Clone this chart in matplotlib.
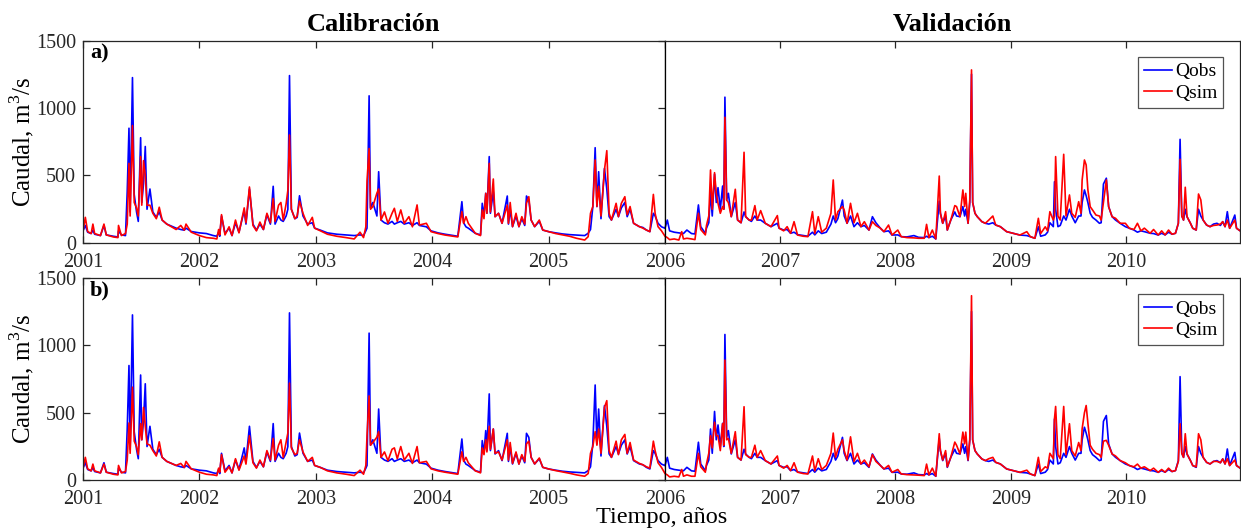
import matplotlib
matplotlib.use("Agg")
import matplotlib.pyplot as plt
import numpy as np

plt.rcParams['font.family'] = ['Liberation Serif', 'DejaVu Serif']
plt.rcParams['mathtext.fontset'] = 'custom'
plt.rcParams['mathtext.rm'] = 'Liberation Serif'

# tiempo (años decimales) y caudales, m3/s
t = [2001.00, 2001.02, 2001.04, 2001.07, 2001.085, 2001.10, 2001.15, 2001.18, 2001.20, 2001.26,
     2001.30, 2001.305, 2001.33, 2001.365, 2001.38, 2001.395, 2001.405, 2001.425, 2001.44, 2001.46,
     2001.475, 2001.495, 2001.505, 2001.52, 2001.535, 2001.55, 2001.575, 2001.60, 2001.63, 2001.655,
     2001.68, 2001.72, 2001.76, 2001.80, 2001.84, 2001.87, 2001.885, 2001.93,
     2002.00, 2002.06, 2002.12, 2002.15, 2002.165, 2002.175, 2002.19, 2002.22, 2002.255, 2002.28,
     2002.31, 2002.34, 2002.385, 2002.40, 2002.43, 2002.46, 2002.49, 2002.52, 2002.55, 2002.58,
     2002.61, 2002.634, 2002.65, 2002.68, 2002.70, 2002.72, 2002.745, 2002.76, 2002.774, 2002.79,
     2002.82, 2002.84, 2002.86, 2002.89, 2002.93, 2002.97, 2002.99,
     2003.04, 2003.10, 2003.18, 2003.26, 2003.33, 2003.38, 2003.41, 2003.43, 2003.44, 2003.458,
     2003.47, 2003.49, 2003.525, 2003.54, 2003.56, 2003.59, 2003.62, 2003.655, 2003.675, 2003.70,
     2003.73, 2003.76, 2003.80, 2003.83, 2003.87, 2003.89, 2003.95, 2003.99,
     2004.05, 2004.11, 2004.18, 2004.22, 2004.255, 2004.27, 2004.29, 2004.31, 2004.37, 2004.415,
     2004.43, 2004.445, 2004.46, 2004.47, 2004.49, 2004.50, 2004.525, 2004.54, 2004.57, 2004.60,
     2004.645, 2004.655, 2004.67, 2004.69, 2004.72, 2004.745, 2004.77, 2004.795, 2004.81, 2004.83,
     2004.85, 2004.88, 2004.92, 2004.95,
     2005.00, 2005.06, 2005.12, 2005.18, 2005.24, 2005.31, 2005.34, 2005.36, 2005.38, 2005.40,
     2005.415, 2005.43, 2005.45, 2005.48, 2005.50, 2005.52, 2005.54, 2005.58, 2005.60, 2005.625,
     2005.655, 2005.675, 2005.70, 2005.73, 2005.78, 2005.81, 2005.84, 2005.87, 2005.90, 2005.915,
     2005.94, 2005.97, 2006.00,
     2006.02, 2006.04, 2006.08, 2006.12, 2006.145, 2006.16, 2006.19, 2006.23, 2006.26, 2006.29,
     2006.31, 2006.35, 2006.36, 2006.38, 2006.395, 2006.41, 2006.43, 2006.445, 2006.46, 2006.48,
     2006.50, 2006.51, 2006.52, 2006.535, 2006.55, 2006.575, 2006.61, 2006.63, 2006.66, 2006.686,
     2006.70, 2006.73, 2006.75, 2006.78, 2006.80, 2006.83, 2006.87, 2006.92, 2006.975, 2006.99,
     2007.03, 2007.06, 2007.09, 2007.12, 2007.15, 2007.20, 2007.24, 2007.28, 2007.30, 2007.33,
     2007.36, 2007.40, 2007.44, 2007.46, 2007.48, 2007.50, 2007.54, 2007.555, 2007.58, 2007.61,
     2007.64, 2007.67, 2007.70, 2007.73, 2007.77, 2007.80, 2007.83, 2007.87, 2007.90, 2007.94,
     2007.97,
     2008.02, 2008.05, 2008.10, 2008.16, 2008.20, 2008.25, 2008.27, 2008.29, 2008.32, 2008.35,
     2008.38, 2008.39, 2008.41, 2008.435, 2008.45, 2008.48, 2008.515, 2008.53, 2008.56, 2008.585,
     2008.60, 2008.61, 2008.63, 2008.645, 2008.66, 2008.67, 2008.69, 2008.71, 2008.75, 2008.78,
     2008.81, 2008.845, 2008.87, 2008.91, 2008.965,
     2009.02, 2009.08, 2009.14, 2009.17, 2009.21, 2009.24, 2009.26, 2009.30, 2009.32, 2009.34,
     2009.37, 2009.38, 2009.39, 2009.41, 2009.43, 2009.46, 2009.48, 2009.51, 2009.53, 2009.56,
     2009.59, 2009.61, 2009.62, 2009.64, 2009.655, 2009.67, 2009.69, 2009.71, 2009.74, 2009.77,
     2009.785, 2009.805, 2009.83, 2009.85, 2009.88, 2009.91, 2009.95, 2009.995,
     2010.03, 2010.07, 2010.10, 2010.13, 2010.16, 2010.21, 2010.24, 2010.28, 2010.31, 2010.34,
     2010.37, 2010.40, 2010.43, 2010.455, 2010.47, 2010.485, 2010.50, 2010.515, 2010.53, 2010.56,
     2010.58, 2010.61, 2010.63, 2010.65, 2010.67, 2010.70, 2010.73, 2010.76, 2010.79, 2010.82,
     2010.84, 2010.86, 2010.88, 2010.90, 2010.945, 2010.96, 2010.99]

q_obs = [90, 130, 80, 70, 95, 65, 55, 130, 60, 50,
         45, 90, 60, 55, 380, 850, 230, 1225, 360, 230,
         160, 780, 300, 440, 715, 250, 400, 230, 190, 230,
         170, 140, 125, 110, 100, 95, 110, 85,
         75, 70, 55, 50, 80, 50, 200, 70, 110, 55,
         150, 80, 240, 140, 400, 140, 95, 140, 100, 210,
         140, 420, 140, 200, 170, 160, 200, 250, 1240, 250,
         180, 190, 350, 200, 140, 150, 110,
         95, 75, 65, 60, 55, 60, 55, 90, 110, 1090,
         260, 300, 200, 528, 170, 150, 140, 160, 140, 150,
         160, 140, 150, 130, 150, 130, 120, 90,
         75, 65, 55, 50, 306, 150, 120, 110, 72, 60,
         294, 200, 368, 220, 640, 220, 380, 195, 220, 146,
         348, 140, 250, 121, 200, 121, 180, 130, 348, 318,
         170, 121, 160, 96,
         84, 75, 67, 62, 59, 55, 72, 100, 270, 706,
         270, 528, 180, 553, 400, 195, 170, 250, 195, 260,
         300, 195, 250, 146, 121, 115, 96, 84, 220, 200,
         146, 120, 109,
         170, 90, 80, 75, 72, 70, 96, 70, 67, 282,
         121, 72, 110, 150, 380, 200, 510, 300, 410, 250,
         422, 250, 1080, 318, 368, 195, 300, 170, 150, 230,
         195, 170, 160, 200, 170, 170, 146, 121, 146, 110,
         96, 100, 72, 80, 62, 55, 50, 80, 60, 90,
         70, 80, 140, 200, 150, 180, 318, 200, 146, 200,
         121, 150, 121, 130, 96, 195, 150, 109, 84, 90,
         59,
         60, 47, 45, 55, 42, 40, 50, 40, 50, 30,
         310, 220, 146, 200, 96, 170, 230, 200, 195, 270,
         200, 250, 146, 300, 1250, 300, 220, 195, 158, 146,
         140, 150, 133, 121, 84,
         72, 59, 55, 47, 35, 120, 50, 60, 80, 150,
         121, 454, 250, 121, 130, 200, 170, 250, 200, 150,
         200, 200, 300, 393, 350, 300, 220, 190, 170, 146,
         150, 437, 480, 269, 195, 170, 146, 121,
         109, 96, 80, 90, 84, 72, 70, 59, 72, 60,
         80, 65, 72, 146, 768, 200, 170, 250, 195, 146,
         109, 96, 250, 200, 170, 133, 121, 140, 146, 130,
         158, 121, 232, 109, 207, 109, 91]

q_sim_a = [85, 190, 85, 70, 140, 70, 55, 140, 60, 45,
           40, 130, 55, 70, 140, 590, 200, 870, 300, 260,
           200, 640, 280, 610, 500, 280, 280, 220, 180, 265,
           170, 140, 120, 100, 130, 95, 140, 80,
           55, 40, 35, 30, 100, 60, 210, 60, 120, 55,
           170, 75, 260, 150, 415, 130, 90, 155, 100, 220,
           150, 330, 160, 280, 300, 170, 290, 390, 800, 250,
           180, 200, 310, 220, 130, 190, 110,
           90, 65, 50, 40, 30, 80, 40, 120, 460, 700,
           250, 270, 370, 400, 170, 230, 146, 220, 257, 160,
           245, 146, 195, 120, 282, 133, 146, 84,
           70, 59, 50, 45, 232, 146, 195, 146, 72, 55,
           245, 180, 368, 220, 590, 230, 474, 195, 220, 146,
           280, 146, 300, 121, 220, 121, 195, 140, 294, 343,
           170, 121, 170, 96,
           84, 70, 60, 50, 35, 22, 47, 220, 270, 615,
           270, 420, 200, 541, 684, 220, 170, 294, 195, 294,
           343, 210, 270, 146, 121, 110, 96, 84, 360, 220,
           121, 90, 50,
           40, 25, 30, 22, 84, 30, 35, 30, 25, 220,
           100, 60, 130, 200, 541, 250, 521, 368, 294, 220,
           270, 250, 931, 318, 300, 195, 398, 170, 150, 672,
           195, 170, 170, 277, 170, 240, 146, 121, 203, 110,
           90, 121, 72, 158, 59, 50, 47, 232, 70, 195,
           80, 110, 220, 467, 170, 232, 270, 245, 146, 294,
           150, 220, 121, 158, 96, 158, 130, 109, 84, 133,
           59,
           96, 47, 40, 38, 35, 35, 138, 40, 96, 30,
           496, 220, 146, 232, 96, 170, 277, 270, 195, 393,
           270, 368, 146, 318, 1282, 300, 220, 195, 158, 146,
           170, 200, 133, 121, 84,
           72, 59, 84, 47, 35, 183, 70, 120, 90, 232,
           170, 200, 640, 200, 170, 657, 200, 356, 220, 190,
           306, 220, 467, 615, 578, 393, 269, 245, 207, 200,
           170, 300, 467, 269, 195, 183, 146, 146,
           109, 100, 146, 90, 110, 72, 100, 59, 90, 60,
           96, 65, 72, 146, 620, 200, 170, 413, 195, 146,
           109, 96, 363, 319, 170, 133, 121, 130, 133, 140,
           158, 121, 170, 109, 170, 109, 91]

q_sim_b = [85, 170, 85, 70, 120, 70, 55, 120, 60, 45,
           40, 110, 55, 65, 150, 425, 200, 690, 290, 250,
           190, 420, 300, 540, 400, 270, 260, 220, 180, 285,
           170, 140, 125, 110, 125, 95, 140, 85,
           60, 45, 40, 35, 90, 60, 190, 60, 100, 55,
           160, 75, 180, 120, 330, 130, 90, 150, 100, 220,
           150, 310, 150, 260, 300, 170, 280, 350, 720, 240,
           190, 200, 300, 210, 140, 170, 110,
           95, 70, 55, 45, 35, 75, 45, 110, 330, 625,
           260, 280, 320, 360, 170, 210, 145, 230, 240, 160,
           250, 150, 200, 125, 250, 130, 140, 85,
           70, 60, 50, 45, 211, 140, 170, 130, 70, 55,
           240, 190, 300, 210, 400, 230, 380, 200, 210, 150,
           300, 150, 280, 125, 210, 120, 190, 140, 270, 290,
           170, 121, 165, 96,
           84, 72, 62, 52, 40, 30, 50, 200, 250, 360,
           260, 380, 200, 540, 590, 220, 170, 290, 190, 300,
           340, 200, 280, 150, 125, 115, 100, 90, 290, 220,
           130, 95, 50,
           40, 25, 30, 25, 80, 30, 40, 30, 30, 200,
           100, 60, 120, 200, 330, 240, 430, 330, 330, 220,
           420, 260, 890, 300, 310, 200, 360, 170, 150, 545,
           190, 170, 170, 260, 170, 220, 146, 121, 180, 110,
           90, 110, 72, 130, 60, 50, 47, 180, 70, 160,
           80, 110, 200, 350, 170, 230, 300, 220, 150, 322,
           140, 200, 121, 150, 100, 190, 140, 109, 84, 110,
           59,
           80, 47, 42, 40, 38, 35, 120, 40, 90, 30,
           345, 220, 150, 220, 100, 170, 283, 260, 195, 357,
           270, 357, 150, 300, 1367, 300, 220, 195, 158, 146,
           160, 170, 133, 121, 84,
           72, 59, 75, 47, 35, 170, 65, 100, 90, 200,
           160, 456, 547, 190, 160, 547, 190, 419, 220, 180,
           280, 220, 382, 500, 554, 423, 260, 230, 200, 190,
           170, 290, 296, 260, 195, 180, 146, 130,
           109, 100, 120, 90, 100, 72, 90, 59, 80, 60,
           90, 65, 72, 140, 419, 200, 170, 345, 195, 146,
           109, 100, 345, 300, 170, 133, 121, 140, 140, 130,
           158, 121, 160, 109, 150, 109, 91]

years = list(range(2001, 2011))
yticks = [0, 500, 1000, 1500]
c_axis = '#262626'

fig = plt.figure(figsize=(12.41, 5.29), dpi=100)

x0, xm, x1 = 83 / 1241, 665 / 1241, 1240 / 1241
rows = [(1 - 243 / 529, q_sim_a, 'a)'), (1 - 480.3 / 529, q_sim_b, 'b)')]
h = 202.5 / 529

for r, (yb, q_sim, tag) in enumerate(rows):
    axl = fig.add_axes([x0, yb, xm - x0, h])
    axr = fig.add_axes([xm, yb, x1 - xm, h])
    for ax in (axl, axr):
        ax.plot(t, q_obs, color='#0000ff', lw=1.2, label='Qobs')
        ax.plot(t, q_sim, color='#ff0000', lw=1.2, label='Qsim')
        ax.set_ylim(0, 1500)
        for s in ax.spines.values():
            s.set_color(c_axis)
            s.set_linewidth(0.9)
        ax.tick_params(axis='x', direction='in', top=True, length=5, width=0.9,
                       labelsize=14.5, pad=7, colors=c_axis)
    axl.set_xlim(2001, 2006)
    axl.set_xticks(years[:6])
    axl.set_yticks(yticks)
    axl.tick_params(axis='y', direction='in', right=True, length=5, width=0.9,
                    labelsize=14.5, pad=5, colors=c_axis)
    axl.set_ylabel('Caudal, m$^{\\mathrm{3}}$/s', fontsize=18, labelpad=0)
    axl.text(0.012, 0.985, tag, transform=axl.transAxes, ha='left', va='top',
             fontsize=16, fontweight='bold')
    axr.set_xlim(2006, 2010.99)
    axr.set_xticks(years[6:])
    axr.set_yticks([])
    axr.spines['left'].set_color('black')
    axl.spines['right'].set_color('black')
    leg = axr.legend(loc='upper right', fontsize=14, frameon=True, fancybox=False,
                     handlelength=1.45, handletextpad=0.15, borderpad=0.3,
                     labelspacing=0.2, borderaxespad=0.85)
    leg.get_frame().set_edgecolor(c_axis)
    leg.get_frame().set_linewidth(0.9)
    if r == 0:
        axl.set_title('Calibración', fontsize=19, fontweight='bold', pad=7)
        axr.set_title('Validación', fontsize=19, fontweight='bold', pad=7)

fig.text(661.5 / 1241, 1 - 523 / 529, 'Tiempo, años', ha='center', va='baseline', fontsize=17.5)

fig.savefig('out.png', dpi=100)
